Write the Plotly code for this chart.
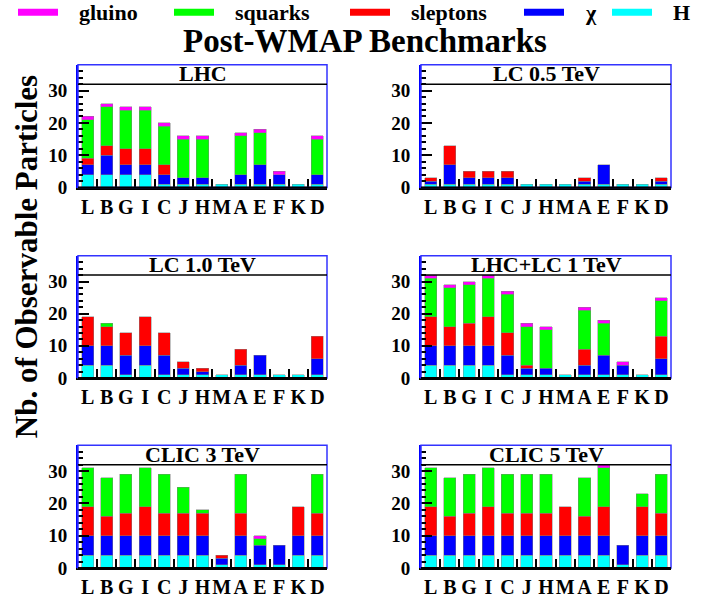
import plotly.graph_objects as go

# ---------------- data ----------------
categories = ["L", "B", "G", "I", "C", "J", "H", "M", "A", "E", "F", "K", "D"]
panel_titles = ["LHC", "LC 0.5 TeV", "LC 1.0 TeV", "LHC+LC 1 TeV", "CLIC 3 TeV", "CLIC 5 TeV"]

# stacking order bottom -> top
species = ["H", "χ", "sleptons", "squarks", "gluino"]
legend_order = ["gluino", "squarks", "sleptons", "χ", "H"]
species_colors = {"gluino": "#ff00ff", "squarks": "#00ff00", "sleptons": "#ff0000",
                  "χ": "#0000ff", "H": "#00ffff"}

lhc_H        = [4, 4, 4, 4, 1, 1, 1, 1, 1, 1, 1, 1, 1]
lhc_chi      = [3, 6, 3, 3, 3, 2, 2, 0, 3, 6, 3, 0, 3]
lhc_sleptons = [2, 3, 5, 5, 3, 0, 0, 0, 0, 0, 0, 0, 0]
lhc_squarks  = [12, 12, 12, 12, 12, 12, 12, 0, 12, 10, 0, 0, 11]
lhc_gluino   = [1, 1, 1, 1, 1, 1, 1, 0, 1, 1, 1, 0, 1]

lc05_H        = [1, 1, 1, 1, 1, 1, 1, 1, 1, 1, 1, 1, 1]
lc05_chi      = [1, 6, 2, 2, 2, 0, 0, 0, 1, 6, 0, 0, 1]
lc05_sleptons = [1, 6, 2, 2, 2, 0, 0, 0, 1, 0, 0, 0, 1]
lc05_squarks  = [0, 0, 0, 0, 0, 0, 0, 0, 0, 0, 0, 0, 0]
lc05_gluino   = [0, 0, 0, 0, 0, 0, 0, 0, 0, 0, 0, 0, 0]

lc10_H        = [4, 4, 1, 4, 1, 1, 1, 1, 1, 1, 1, 1, 1]
lc10_chi      = [6, 6, 6, 6, 6, 2, 1, 0, 3, 6, 0, 0, 5]
lc10_sleptons = [9, 6, 7, 9, 7, 2, 1, 0, 5, 0, 0, 0, 7]
lc10_squarks  = [0, 1, 0, 0, 0, 0, 0, 0, 0, 0, 0, 0, 0]
lc10_gluino   = [0, 0, 0, 0, 0, 0, 0, 0, 0, 0, 0, 0, 0]

lhclc_H        = [4, 4, 4, 4, 1, 1, 1, 1, 1, 1, 1, 1, 1]
lhclc_chi      = [6, 6, 6, 6, 6, 2, 2, 0, 3, 6, 3, 0, 5]
lhclc_sleptons = [9, 6, 7, 9, 7, 1, 0, 0, 5, 0, 0, 0, 7]
lhclc_squarks  = [12, 12, 12, 12, 12, 12, 12, 0, 12, 10, 0, 0, 11]
lhclc_gluino   = [1, 1, 1, 1, 1, 1, 1, 0, 1, 1, 1, 0, 1]

clic3_H        = [4, 4, 4, 4, 4, 4, 4, 1, 4, 1, 1, 4, 4]
clic3_chi      = [6, 6, 6, 6, 6, 6, 6, 2, 6, 6, 6, 6, 6]
clic3_sleptons = [9, 6, 7, 9, 7, 7, 7, 1, 7, 0, 0, 9, 7]
clic3_squarks  = [12, 12, 12, 12, 12, 8, 1, 0, 12, 2, 0, 0, 12]
clic3_gluino   = [0, 0, 0, 0, 0, 0, 0, 0, 0, 1, 0, 0, 0]

clic5_H        = [4, 4, 4, 4, 4, 4, 4, 4, 4, 4, 1, 4, 4]
clic5_chi      = [6, 6, 6, 6, 6, 6, 6, 6, 6, 6, 6, 6, 6]
clic5_sleptons = [9, 6, 7, 9, 7, 7, 7, 9, 6, 9, 0, 9, 7]
clic5_squarks  = [12, 12, 12, 12, 12, 12, 12, 0, 12, 12, 0, 4, 12]
clic5_gluino   = [0, 0, 0, 0, 0, 0, 0, 0, 0, 1, 0, 0, 0]

panels = [
    [lhc_H, lhc_chi, lhc_sleptons, lhc_squarks, lhc_gluino],
    [lc05_H, lc05_chi, lc05_sleptons, lc05_squarks, lc05_gluino],
    [lc10_H, lc10_chi, lc10_sleptons, lc10_squarks, lc10_gluino],
    [lhclc_H, lhclc_chi, lhclc_sleptons, lhclc_squarks, lhclc_gluino],
    [clic3_H, clic3_chi, clic3_sleptons, clic3_squarks, clic3_gluino],
    [clic5_H, clic5_chi, clic5_sleptons, clic5_squarks, clic5_gluino],
]

# ---------------- layout helpers ----------------
W, H = 707, 606
FONT = "Liberation Serif"


def px_x(p):
    return p / W


def px_y(p):
    return 1 - p / H


x_domains = [[px_x(78), px_x(327)], [px_x(421), px_x(671)]]
y_domains = [[px_y(191), px_y(66)], [px_y(385), px_y(260.5)], [px_y(578.5), px_y(453.5)]]

fig = go.Figure()
shapes = []
annotations = []
layout_axes = {}

for i, (title, series) in enumerate(zip(panel_titles, panels)):
    n = "" if i == 0 else str(i + 1)
    row, col = i // 2, i % 2
    for name, vals in zip(species, series):
        fig.add_trace(go.Bar(
            x=categories,
            y=[v if v else None for v in vals],
            name=name,
            marker=dict(color=species_colors[name],
                        line=dict(width=0.6, color="rgba(130,130,130,0.8)")),
            xaxis="x" + n, yaxis="y" + n,
            showlegend=False,
            hovertemplate=name + ": %{y}<extra></extra>",
        ))
    layout_axes["xaxis" + n] = dict(
        domain=x_domains[col], anchor="y" + n, type="category",
        categoryorder="array", categoryarray=categories,
        range=[-0.5, len(categories) - 0.5],
        tickmode="array", tickvals=categories, ticktext=categories,
        tickangle=0,
        tickson="boundaries", ticks="inside", ticklen=9, tickwidth=2, tickcolor="black",
        showline=True, linecolor="black", linewidth=2, showgrid=False,
        tickfont=dict(family=FONT, size=20, color="black", weight="bold"),
        fixedrange=True,
    )
    layout_axes["yaxis" + n] = dict(
        domain=y_domains[row], anchor="x" + n, range=[0, 38],
        tickvals=[0, 10, 20, 30], ticks="inside", ticklen=11, tickwidth=2, tickcolor="black",
        minor=dict(tickvals=list(range(0, 38, 2)), ticks="inside", ticklen=5,
                   tickwidth=1.5, tickcolor="black"),
        showline=True, linecolor="blue", linewidth=2, showgrid=False, zeroline=False,
        tickfont=dict(family=FONT, size=19, color="black", weight="bold"),
        ticklabelstandoff=5,
        fixedrange=True,
    )
    xd = "x" + n + " domain"
    yd = "y" + n + " domain"
    shapes.append(dict(type="rect", xref=xd, yref=yd, x0=0, x1=1, y0=0, y1=1,
                       line=dict(color="#3333ff", width=1.5), layer="above"))
    shapes.append(dict(type="line", xref=xd, yref=yd, x0=0, x1=1, y0=0, y1=0,
                       line=dict(color="black", width=2), layer="above"))
    shapes.append(dict(type="line", xref=xd, yref="y" + n, x0=0, x1=1, y0=32, y1=32,
                       line=dict(color="black", width=1.5), layer="above"))
    annotations.append(dict(text=title, xref=xd, yref="y" + n, x=0.5, y=35.2,
                            showarrow=False, xanchor="center", yanchor="middle",
                            font=dict(family=FONT, size=22, color="black", weight="bold")))

# legend (swatches + labels)
legend_swatch_x = {"gluino": 18, "squarks": 174, "sleptons": 350, "χ": 524, "H": 612}
for name in legend_order:
    x0 = legend_swatch_x[name]
    shapes.append(dict(type="rect", xref="paper", yref="paper",
                       x0=px_x(x0), x1=px_x(x0 + 40), y0=px_y(16), y1=px_y(9),
                       fillcolor=species_colors[name], line=dict(width=0)))
    annotations.append(dict(text=name, xref="paper", yref="paper",
                            x=px_x(x0 + 59), y=px_y(13), xanchor="left", yanchor="middle",
                            showarrow=False,
                            font=dict(family=FONT, size=22, color="black", weight="bold")))

# title
annotations.append(dict(text="Post-WMAP Benchmarks", xref="paper", yref="paper",
                        x=px_x(365), y=px_y(42), xanchor="center", yanchor="middle",
                        showarrow=False,
                        font=dict(family=FONT, size=33, color="black", weight="bold")))
# y title
annotations.append(dict(text="Nb. of Observable Particles", xref="paper", yref="paper",
                        x=px_x(26), y=px_y(262), xanchor="center", yanchor="middle",
                        textangle=-90, showarrow=False,
                        font=dict(family=FONT, size=31, color="black", weight="bold")))

fig.update_layout(
    width=W, height=H, margin=dict(l=0, r=0, t=0, b=0),
    paper_bgcolor="white", plot_bgcolor="white",
    barmode="stack", bargap=0.37,
    showlegend=False,
    shapes=shapes, annotations=annotations,
    **layout_axes,
)

fig.write_html("out.html")
